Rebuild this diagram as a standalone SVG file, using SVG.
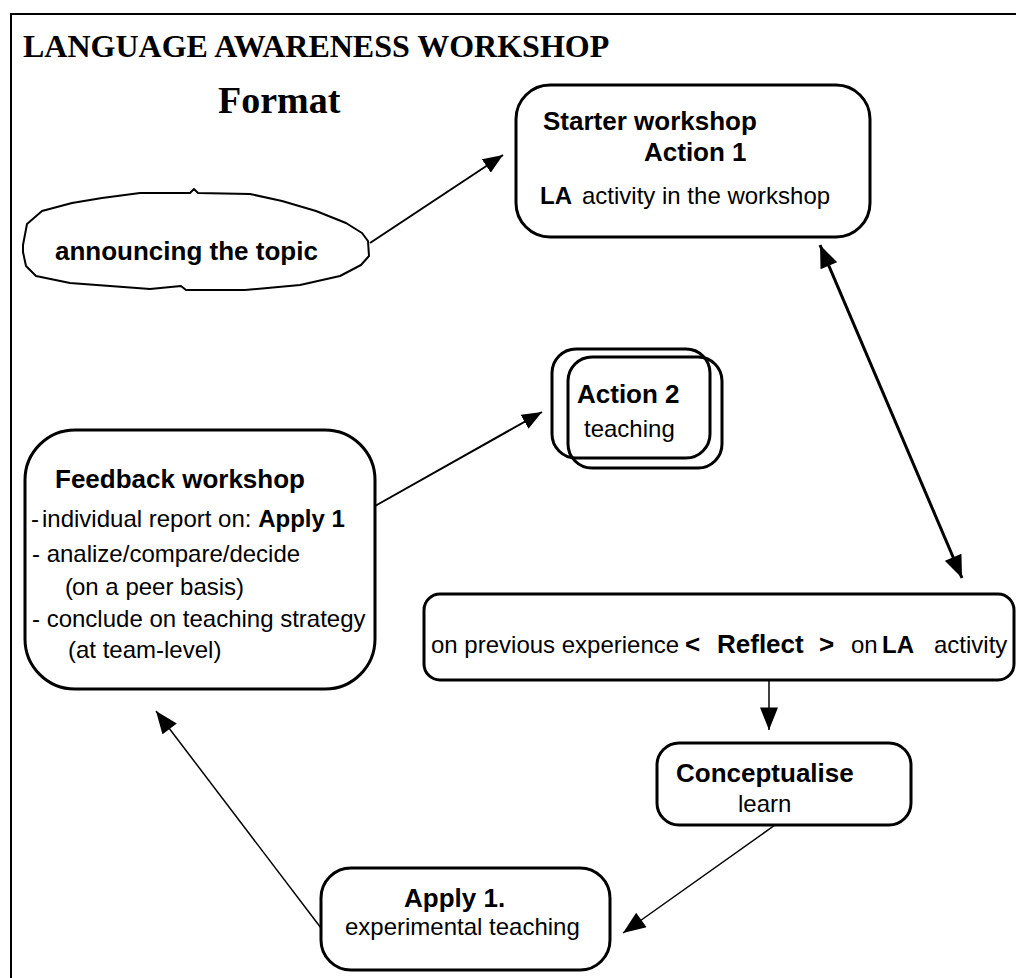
<svg xmlns="http://www.w3.org/2000/svg" width="1016" height="978" viewBox="0 0 1016 978">
<defs>
<style>
.box{fill:#fff;stroke:#000;stroke-width:3}
.ln{fill:none;stroke:#000}
.s{font-family:"Liberation Sans",Arial,sans-serif;font-size:24px;fill:#000}
.b{font-family:"Liberation Sans",Arial,sans-serif;font-size:26px;font-weight:bold;fill:#000}
.serif{font-family:"Liberation Serif","Times New Roman",serif;font-weight:bold;fill:#000}
</style>
<marker id="ah" viewBox="0 0 20 16" markerUnits="userSpaceOnUse" markerWidth="20" markerHeight="16" refX="20" refY="8" orient="auto-start-reverse">
<path d="M0,0 L20,8 L0,16 z" fill="#000"/>
</marker>
<marker id="ahs" viewBox="0 0 20 16" markerUnits="userSpaceOnUse" markerWidth="24" markerHeight="18" refX="20" refY="8" orient="auto-start-reverse">
<path d="M0,0 L20,8 L0,16 z" fill="#000"/>
</marker>
</defs>
<rect width="1016" height="978" fill="#fff"/>
<path class="ln" stroke-width="2" d="M11,978 L11,14 L1016,14"/>
<text class="serif" x="23" y="57" font-size="32">LANGUAGE AWARENESS WORKSHOP</text>
<text class="serif" x="218" y="113" font-size="38">Format</text>

<g id="connectors">
<line class="ln" stroke-width="2" x1="370" y1="243" x2="503" y2="155" marker-end="url(#ah)"/>
<line class="ln" stroke-width="3" x1="820" y1="245" x2="962" y2="578" marker-start="url(#ahs)" marker-end="url(#ahs)"/>
<line class="ln" stroke-width="2" x1="375" y1="506" x2="542" y2="412" marker-end="url(#ah)"/>
<line class="ln" stroke-width="1.5" x1="769" y1="680" x2="769" y2="730" marker-end="url(#ahs)"/>
<line class="ln" stroke-width="1.5" x1="775" y1="825" x2="623" y2="933" marker-end="url(#ahs)"/>
<line class="ln" stroke-width="1.5" x1="321" y1="928" x2="156" y2="711" marker-end="url(#ahs)"/>
</g>

<g id="announce">
<path fill="#fff" stroke="#000" stroke-width="2" stroke-linejoin="round" d="M23,245 L27,224 L42,211 L72,203 L102,198 L140,193 L190,193 L194,189 L198,193 L250,194 L282,201 L316,211 L346,223 L362,233 L368,241 L369,256 L361,265 L340,276 L300,285 L245,290 L186,290 L181,286 L150,289 L110,286 L70,283 L36,276 L26,266 L23,252 Z"/>
<text class="b" x="55" y="260">announcing the topic</text>
</g>

<g id="starter">
<rect class="box" x="516" y="85" width="354" height="152" rx="34"/>
<text class="b" x="543" y="130">Starter workshop</text>
<text class="b" x="644" y="161">Action 1</text>
<text class="s" x="540" y="204"><tspan font-weight="bold">LA</tspan></text>
<text class="s" x="582" y="204">activity in the workshop</text>
</g>

<g id="action2">
<rect class="box" x="552" y="349" width="158" height="109" rx="24"/>
<rect class="box" fill="none" style="fill:none" x="568" y="357" width="154" height="111" rx="24"/>
<text class="b" x="577" y="403">Action 2</text>
<text class="s" x="584" y="437">teaching</text>
</g>

<g id="feedback">
<rect class="box" x="25" y="430" width="350" height="259" rx="50"/>
<text class="b" x="55" y="488">Feedback workshop</text>
<text class="s" x="31" y="527" font-size="15">-</text>
<text class="s" x="42" y="527">individual report on: <tspan font-weight="bold">Apply 1</tspan></text>
<text class="s" x="32" y="562">- analize/compare/decide</text>
<text class="s" x="65" y="595" font-size="15">(</text>
<text class="s" x="72" y="595">on a peer basis)</text>
<text class="s" x="32" y="627">- conclude on teaching strategy</text>
<text class="s" x="68" y="658">(at team-level)</text>
</g>

<g id="reflect">
<rect class="box" x="424" y="594" width="590" height="86" rx="16"/>
<text class="s" x="431" y="653">on previous experience</text>
<text class="b" x="685" y="653">&lt;</text>
<text class="b" x="717" y="653">Reflect</text>
<text class="b" x="819" y="653">&gt;</text>
<text class="s" x="851" y="653">on</text>
<text class="s" x="882" y="653"><tspan font-weight="bold">LA</tspan></text>
<text class="s" x="934" y="653">activity</text>
</g>

<g id="conceptualise">
<rect class="box" x="657" y="743" width="254" height="82" rx="22"/>
<text class="b" x="676" y="782">Conceptualise</text>
<text class="s" x="738" y="812">learn</text>
</g>

<g id="apply">
<rect class="box" x="321" y="868" width="289" height="102" rx="30"/>
<text class="b" x="404" y="907">Apply 1.</text>
<text class="s" x="345" y="935">experimental teaching</text>
</g>
</svg>
